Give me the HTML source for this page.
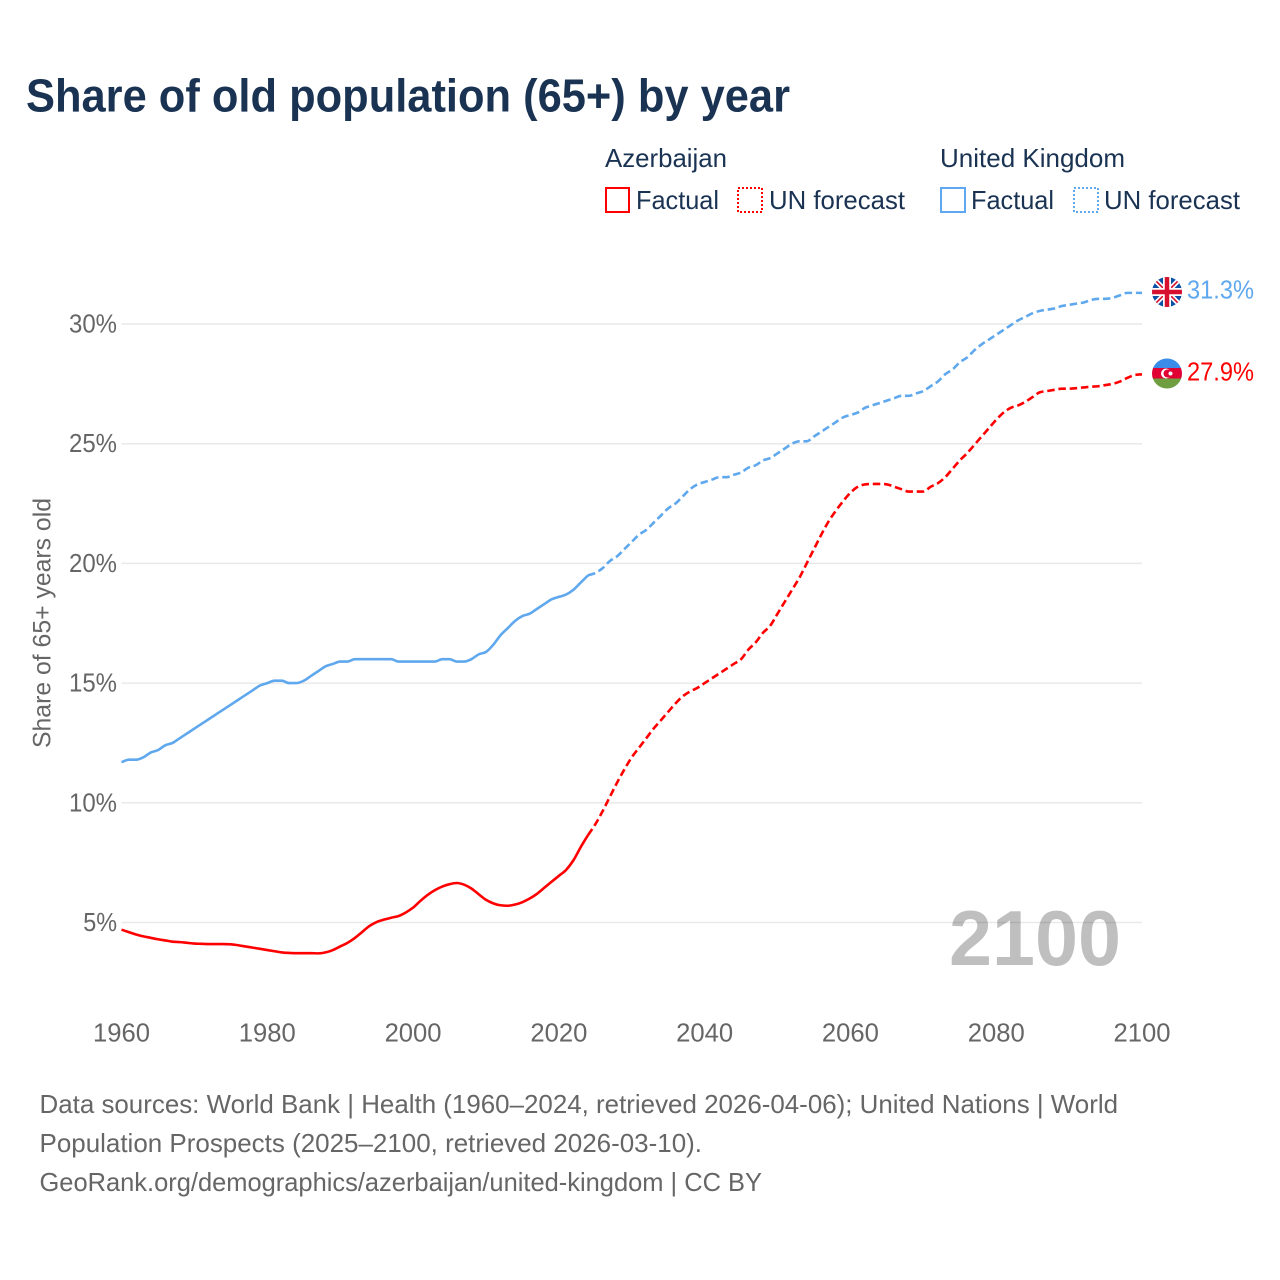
<!DOCTYPE html>
<html lang="en">
<head>
<meta charset="utf-8">
<title>Share of old population (65+) by year</title>
<style>
html,body{margin:0;padding:0;background:#fff}
svg{display:block}
text{font-family:"Liberation Sans",sans-serif}
</style>
</head>
<body>
<svg id="chart" xmlns="http://www.w3.org/2000/svg" width="1280" height="1280" viewBox="0 0 1280 1280">
  <defs>
    <clipPath id="flag-clip-uk"><circle cx="1167" cy="292" r="15"/></clipPath>
    <clipPath id="flag-clip-az"><circle cx="1167" cy="373.5" r="15"/></clipPath>
  </defs>
  <rect width="1280" height="1280" fill="#fff"/>
  <text x="26" y="111.5" font-size="46" font-weight="700" fill="#1a3353" textLength="764" lengthAdjust="spacingAndGlyphs">Share of old population (65+) by year</text>

  <g font-size="26" fill="#1a3353">
    <text x="605" y="167" textLength="122" lengthAdjust="spacingAndGlyphs">Azerbaijan</text>
    <text x="940" y="167" textLength="185" lengthAdjust="spacingAndGlyphs">United Kingdom</text>
    <rect x="606" y="188" width="23" height="24" fill="none" stroke="#ff0000" stroke-width="2"/>
    <text x="636" y="209" textLength="83" lengthAdjust="spacingAndGlyphs">Factual</text>
    <rect x="738" y="188" width="24" height="24" fill="none" stroke="#ff0000" stroke-width="2" stroke-dasharray="2 2"/>
    <text x="769" y="209" textLength="136" lengthAdjust="spacingAndGlyphs">UN forecast</text>
    <rect x="941" y="188" width="24" height="24" fill="none" stroke="#5fa8ee" stroke-width="2"/>
    <text x="971" y="209" textLength="83" lengthAdjust="spacingAndGlyphs">Factual</text>
    <rect x="1074" y="188" width="24" height="24" fill="none" stroke="#5fa8ee" stroke-width="2" stroke-dasharray="2 2"/>
    <text x="1104" y="209" textLength="136" lengthAdjust="spacingAndGlyphs">UN forecast</text>
  </g>

  <g id="grid"></g>
  <g id="y-ticks"></g>
  <g id="x-ticks"></g>
  <text transform="translate(50.5 748) rotate(-90)" x="0" y="0" font-size="25" fill="#666" textLength="250" lengthAdjust="spacingAndGlyphs">Share of 65+ years old</text>

  <text x="949" y="965" font-size="78" font-weight="700" fill="#000" fill-opacity="0.25" textLength="172" lengthAdjust="spacingAndGlyphs">2100</text>

  <g id="series"></g>

  <g clip-path="url(#flag-clip-uk)">
    <rect x="1152" y="277" width="30" height="30" fill="#0a4fa6"/>
    <path d="M1152 277L1182 307M1182 277L1152 307" stroke="#fff" stroke-width="5"/>
    <path d="M1152 277L1182 307M1182 277L1152 307" stroke="#d8102f" stroke-width="1.6"/>
    <path d="M1167 277V307M1152 292H1182" stroke="#fff" stroke-width="8"/>
    <path d="M1167 277V307M1152 292H1182" stroke="#d8102f" stroke-width="4.5"/>
  </g>
  <g clip-path="url(#flag-clip-az)">
    <rect x="1152" y="358" width="30" height="10.5" fill="#3a8ce8"/>
    <rect x="1152" y="368" width="30" height="11" fill="#e00034"/>
    <rect x="1152" y="378.5" width="30" height="10.5" fill="#6f9e40"/>
    <circle cx="1166" cy="373.5" r="5" fill="#fff"/>
    <circle cx="1167.5" cy="373.5" r="4" fill="#e00034"/>
    <circle cx="1170.5" cy="373.5" r="2" fill="#fff"/>
  </g>
  <text id="label-uk" x="1187" y="298.5" font-size="26" fill="#5fa8ee" textLength="67" lengthAdjust="spacingAndGlyphs"></text>
  <text id="label-az" x="1187" y="380.5" font-size="26" fill="#ff0000" textLength="67" lengthAdjust="spacingAndGlyphs"></text>

  <g font-size="26" fill="#666">
    <text x="39.5" y="1113" textLength="1078.5" lengthAdjust="spacingAndGlyphs">Data sources: World Bank | Health (1960–2024, retrieved 2026-04-06); United Nations | World</text>
    <text x="39.5" y="1152" textLength="662.5" lengthAdjust="spacingAndGlyphs">Population Prospects (2025–2100, retrieved 2026-03-10).</text>
    <text x="39.5" y="1191" textLength="722.5" lengthAdjust="spacingAndGlyphs">GeoRank.org/demographics/azerbaijan/united-kingdom | CC BY</text>
  </g>
</svg>
<script>
const xTickYears = [1960, 1980, 2000, 2020, 2040, 2060, 2080, 2100];
const yTickValues = [5, 10, 15, 20, 25, 30];
const firstYear = 1960;
const lastFactualYear = 2024;
const ukValues = [
  11.7,11.8,11.8,11.9,12.1,12.2,12.4,12.5,12.7,12.9,
  13.1,13.3,13.5,13.7,13.9,14.1,14.3,14.5,14.7,14.9,
  15.0,15.1,15.1,15.0,15.0,15.1,15.3,15.5,15.7,15.8,
  15.9,15.9,16.0,16.0,16.0,16.0,16.0,16.0,15.9,15.9,
  15.9,15.9,15.9,15.9,16.0,16.0,15.9,15.9,16.0,16.2,
  16.3,16.6,17.0,17.3,17.6,17.8,17.9,18.1,18.3,18.5,
  18.6,18.7,18.9,19.2,19.5,19.6,19.8,20.1,20.3,20.6,
  20.9,21.2,21.4,21.7,22.0,22.3,22.5,22.8,23.1,23.3,
  23.4,23.5,23.6,23.6,23.7,23.8,24.0,24.1,24.3,24.4,
  24.6,24.8,25.0,25.1,25.1,25.3,25.5,25.7,25.9,26.1,
  26.2,26.3,26.5,26.6,26.7,26.8,26.9,27.0,27.0,27.1,
  27.2,27.4,27.6,27.9,28.1,28.4,28.6,28.9,29.15,29.35,
  29.55,29.75,29.95,30.15,30.3,30.45,30.55,30.6,30.65,30.75,
  30.8,30.85,30.9,31.0,31.05,31.05,31.1,31.2,31.3,31.3,
  31.3
];
const azValues = [
  4.7,4.6,4.5,4.42,4.36,4.3,4.25,4.2,4.18,4.15,
  4.12,4.11,4.1,4.1,4.1,4.09,4.05,4.0,3.95,3.9,
  3.85,3.8,3.75,3.73,3.72,3.72,3.72,3.71,3.75,3.85,
  4.0,4.15,4.35,4.6,4.85,5.02,5.12,5.2,5.27,5.42,
  5.62,5.9,6.15,6.35,6.5,6.6,6.65,6.58,6.42,6.18,
  5.95,5.8,5.72,5.7,5.75,5.85,6.0,6.2,6.45,6.7,
  6.95,7.2,7.6,8.15,8.65,9.1,9.65,10.25,10.85,11.4,
  11.9,12.3,12.7,13.1,13.45,13.8,14.15,14.45,14.65,14.8,
  15.0,15.2,15.4,15.6,15.8,16.0,16.4,16.7,17.1,17.4,
  17.9,18.4,18.9,19.4,20.0,20.6,21.2,21.75,22.2,22.6,
  22.95,23.2,23.3,23.32,23.32,23.3,23.2,23.1,23.0,23.0,
  23.0,23.2,23.35,23.6,23.95,24.3,24.6,24.95,25.3,25.65,
  26.0,26.3,26.5,26.6,26.75,26.95,27.15,27.2,27.25,27.3,
  27.3,27.32,27.35,27.38,27.4,27.45,27.5,27.6,27.75,27.87,
  27.9
];

const svgNS = 'http://www.w3.org/2000/svg';
function xScale(year) { return 121.5 + (year - 1960) * (1142 - 121.5) / 140; }
function yScale(value) { return 922.5 - (value - 5) * (922.5 - 324) / 25; }

function sign(v) { return v < 0 ? -1 : 1; }
function monotonePath(pts) {
  const n = pts.length;
  const dx = [], slope = [], tangent = [];
  for (let i = 0; i < n - 1; i++) {
    dx[i] = pts[i + 1][0] - pts[i][0];
    slope[i] = (pts[i + 1][1] - pts[i][1]) / dx[i];
  }
  tangent[0] = slope[0];
  tangent[n - 1] = slope[n - 2];
  for (let i = 1; i < n - 1; i++) {
    const p = (slope[i - 1] * dx[i] + slope[i] * dx[i - 1]) / (dx[i - 1] + dx[i]);
    tangent[i] = (sign(slope[i - 1]) + sign(slope[i])) *
      Math.min(Math.abs(slope[i - 1]), Math.abs(slope[i]), 0.5 * Math.abs(p)) || 0;
  }
  let d = 'M' + pts[0][0].toFixed(2) + ' ' + pts[0][1].toFixed(2);
  for (let i = 0; i < n - 1; i++) {
    const h = dx[i] / 3;
    d += 'C' + (pts[i][0] + h).toFixed(2) + ' ' + (pts[i][1] + h * tangent[i]).toFixed(2) + ' ' +
      (pts[i + 1][0] - h).toFixed(2) + ' ' + (pts[i + 1][1] - h * tangent[i + 1]).toFixed(2) + ' ' +
      pts[i + 1][0].toFixed(2) + ' ' + pts[i + 1][1].toFixed(2);
  }
  return d;
}

const gridGroup = document.getElementById('grid');
const yTickGroup = document.getElementById('y-ticks');
const xTickGroup = document.getElementById('x-ticks');
const seriesGroup = document.getElementById('series');

yTickValues.forEach(function (v) {
  const line = document.createElementNS(svgNS, 'line');
  
  
  line.setAttribute('x1', 121.5);
  line.setAttribute('x2', 1142);
  line.setAttribute('y1', yScale(v));
  line.setAttribute('y2', yScale(v));
  line.setAttribute('stroke', '#e9e9e9');
  line.setAttribute('stroke-width', '1.5');
  gridGroup.appendChild(line);

  const label = document.createElementNS(svgNS, 'text');
  const str = v + '%';
  
  
  label.setAttribute('x', 117 - (String(v).length * 14.2 + 19.6));
  label.setAttribute('y', yScale(v) + 8.5);
  label.setAttribute('font-size', '26');
  label.setAttribute('fill', '#666');
  label.setAttribute('textLength', String(v).length * 14.2 + 19.6);
  label.setAttribute('lengthAdjust', 'spacingAndGlyphs');
  label.textContent = str;
  yTickGroup.appendChild(label);
});

xTickYears.forEach(function (yr) {
  const label = document.createElementNS(svgNS, 'text');
  
  
  label.setAttribute('x', xScale(yr) - 28.5);
  label.setAttribute('y', 1041.5);
  label.setAttribute('font-size', '26');
  label.setAttribute('fill', '#666');
  label.setAttribute('textLength', '57');
  label.setAttribute('lengthAdjust', 'spacingAndGlyphs');
  label.textContent = String(yr);
  xTickGroup.appendChild(label);
});

function drawSeries(values, color, key) {
  const pts = values.map(function (v, i) { return [xScale(firstYear + i), yScale(v)]; });
  const split = lastFactualYear - firstYear;
  const factual = document.createElementNS(svgNS, 'path');
  
  
  factual.setAttribute('data-series', key);
  factual.setAttribute('d', monotonePath(pts.slice(0, split + 1)));
  factual.setAttribute('fill', 'none');
  factual.setAttribute('stroke', color);
  factual.setAttribute('stroke-width', '2.6');
  factual.setAttribute('stroke-linejoin', 'round');
  seriesGroup.appendChild(factual);

  const forecast = document.createElementNS(svgNS, 'path');
  
  
  forecast.setAttribute('data-series', key);
  forecast.setAttribute('d', monotonePath(pts.slice(split)));
  forecast.setAttribute('fill', 'none');
  forecast.setAttribute('stroke', color);
  forecast.setAttribute('stroke-width', '2.6');
  forecast.setAttribute('stroke-dasharray', '7.5 3.8');
  seriesGroup.appendChild(forecast);
}
drawSeries(ukValues, '#5fa8ee', 'united-kingdom');
drawSeries(azValues, '#ff0000', 'azerbaijan');

document.getElementById('label-uk').textContent = ukValues[ukValues.length - 1].toFixed(1) + '%';
document.getElementById('label-az').textContent = azValues[azValues.length - 1].toFixed(1) + '%';
</script>
</body>
</html>
